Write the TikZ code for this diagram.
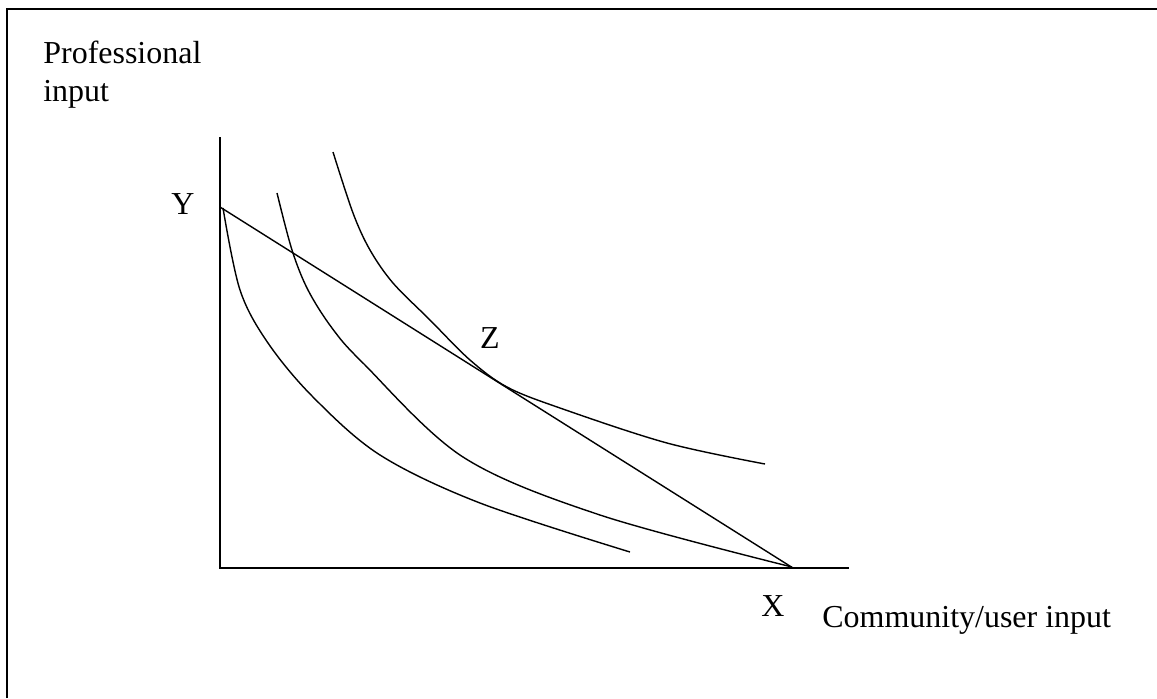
\documentclass[tikz,border=0pt]{standalone}
\usepackage{fontspec}
\setmainfont{Liberation Serif}
\usetikzlibrary{calc}

\begin{document}
\begin{tikzpicture}[x=0.02cm, y=-0.02cm, font=\fontsize{18.2}{21.6}\selectfont,
  lbl/.style={inner sep=0pt},
  axis/.style={line width=1.1pt},
  curve/.style={line width=0.8pt, smooth, tension=0.55}]
  \useasboundingbox (0,0) rectangle (1157,698);
  % frame (only top and left edge visible)
  \draw[line width=1.1pt] (7,698) -- (7,9) -- (1157,9);
  % axes
  \coordinate (orig) at (220,568);
  \coordinate (ytop) at (220,137);
  \coordinate (xend) at (849,568);
  \draw[axis] (ytop) -- (orig) -- (xend);
  \node[lbl, anchor=north west, align=left] (prof) at (43,41) {Professional\\input};
  \node[lbl, anchor=base west] (comm) at (822,627) {Community/user input};
  % budget line from Y to X
  \coordinate (ypt) at (220,207);
  \coordinate (xpt) at (793,568);
  \draw[line width=0.8pt] (ypt) -- (xpt);
  \node[lbl] (ylab) at (183,204) {Y};
  \node[lbl] (xlab) at (773,606) {X};
  % indifference curves: inner, middle, outer (tangent at Z)
  \draw[curve] plot coordinates {(223,208) (240,290) (268,343) (313,397)
    (380,455) (480,503) (630,552)};
  \draw[curve] plot coordinates {(277,193) (292,250) (308,290) (332,328)
    (363,363) (463,457) (600,515) (792,567)};
  \draw[curve] plot coordinates {(333,152) (353,213) (370,250) (393,283)
    (430,320) (470,360) (507,387) (560,408) (667,443) (765,464)};
  \node[lbl] (zlab) at (490,338) {Z};
\end{tikzpicture}
\end{document}
